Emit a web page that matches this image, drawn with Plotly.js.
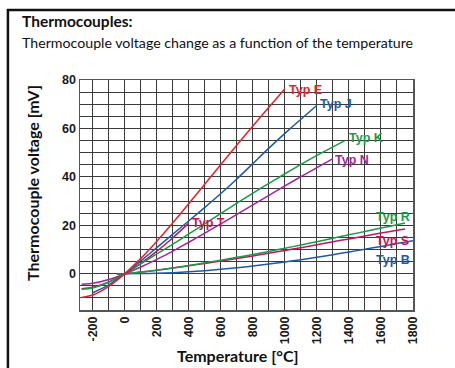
<!DOCTYPE html>
<html><head><meta charset="utf-8">
<script src="https://cdn.plot.ly/plotly-3.0.1.min.js"></script>
<style>html,body{margin:0;padding:0;background:#fff;}#chart{width:455px;height:368px;}</style>
</head><body><div id="chart"></div>
<script>
// Temperatures (°C) and thermocouple voltages (mV)
const tempE = [-270,-200,-100,0,100,200,300,400,500,600,700,800,900,1000];
const voltE = [-9.835,-8.825,-5.237,0,6.319,13.421,21.036,28.946,37.005,45.093,53.112,61.017,68.787,76.373];
const tempJ = [-200,-100,0,100,200,300,400,500,600,700,800,900,1000,1100,1200];
const voltJ = [-7.890,-4.633,0,5.269,10.779,16.327,21.848,27.393,33.102,39.132,45.494,51.877,57.953,63.792,69.553];
const tempK = [-270,-200,-100,0,100,200,300,400,500,600,700,800,900,1000,1100,1200,1300,1372];
const voltK = [-6.458,-5.891,-3.554,0,4.096,8.138,12.209,16.397,20.644,24.905,29.129,33.275,37.326,41.276,45.119,48.838,52.410,54.886];
const tempN = [-270,-200,-100,0,100,200,300,400,500,600,700,800,900,1000,1100,1200,1300];
const voltN = [-4.345,-3.990,-2.407,0,2.774,5.913,9.341,12.974,16.748,20.613,24.527,28.455,32.371,36.256,40.087,43.846,47.513];
const tempT = [-270,-200,-100,0,100,200,300,400];
const voltT = [-6.258,-5.603,-3.379,0,4.279,9.288,14.862,20.872];
const tempR = [-50,0,100,200,300,400,500,600,700,800,900,1000,1100,1200,1300,1400,1500,1600,1700,1750];
const voltR = [-0.226,0,0.647,1.469,2.401,3.408,4.471,5.583,6.743,7.950,9.205,10.506,11.850,13.228,14.629,16.040,17.451,18.849,20.222,20.9];
const tempS = [-50,0,100,200,300,400,500,600,700,800,900,1000,1100,1200,1300,1400,1500,1600,1700,1750];
const voltS = [-0.236,0,0.646,1.441,2.323,3.259,4.233,5.239,6.275,7.345,8.449,9.587,10.757,11.951,13.159,14.373,15.582,16.777,17.947,18.5];
const tempB = [0,100,200,300,400,500,600,700,800,900,1000,1100,1200,1300,1400,1500,1600,1700,1800];
const voltB = [0,0.033,0.178,0.431,0.787,1.242,1.792,2.431,3.154,3.957,4.834,5.780,6.786,7.848,8.956,10.099,11.263,12.433,13.591];

const seriesNames = ["Typ E","Typ J","Typ K","Typ N","Typ T","Typ R","Typ S","Typ B"];
const labelX = [1012,1208,1387,1300,408,1558,1558,1558];
const labelY = [75.8,70.0,56.0,46.9,20.9,23.3,13.3,5.6];

const xTickVals = [-200,0,200,400,600,800,1000,1200,1400,1600,1800];
const xTickText = ["-200","0","200","400","600","800","1000","1200","1400","1600","1800"];
const yTickVals = [0,20,40,60,80];
const yTickText = ["0","20","40","60","80"];

const RED="#e8202a", BLUE="#1c5aa6", GREEN="#1a9a44", PURPLE="#a3239a", CRIMSON="#c4145c";
const colors = [RED,BLUE,GREEN,PURPLE,CRIMSON,GREEN,CRIMSON,BLUE];
const xs = [tempE,tempJ,tempK,tempN,tempT,tempR,tempS,tempB];
const ys = [voltE,voltJ,voltK,voltN,voltT,voltR,voltS,voltB];

const order = [7,6,5,4,3,2,1,0];
const traces = order.map(i => ({
  x: xs[i], y: ys[i], type:"scatter", mode:"lines", name: seriesNames[i],
  line:{color:colors[i], width:1.5, shape:"spline", smoothing:0.6},
  hoverinfo:"skip"
}));

const FONT = "Liberation Sans, Arial, sans-serif";
const TFONT = "Lato, sans-serif";
const annotations = seriesNames.map((n,i) => ({
  x: labelX[i], y: labelY[i], xref:"x", yref:"y", text:"<b>"+n+"</b>", showarrow:false,
  xanchor:"left", yanchor:"middle",
  font:{family:FONT, size:12.5, color:colors[i]}
}));
annotations.push(
  {xref:"paper", yref:"paper", x:(20-80)/332.7, y:(310-21)/230, xanchor:"left", yanchor:"middle",
   text:"<b>Thermocouples:</b>", showarrow:false, font:{family:TFONT, size:15.5, color:"#111"}},
  {xref:"paper", yref:"paper", x:(20-80)/332.7, y:(310-42)/230, xanchor:"left", yanchor:"middle",
   text:"Thermocouple voltage change as a function of the temperature", showarrow:false,
   font:{family:TFONT, size:14.2, color:"#111"}},
  {xref:"paper", yref:"paper", x:(32-80)/332.7, y:(310-183)/230, xanchor:"center", yanchor:"middle",
   text:"<b>Thermocouple voltage [mV]</b>", textangle:-90, showarrow:false,
   font:{family:TFONT, size:16, color:"#111"}},
  {xref:"paper", yref:"paper", x:(238-80)/332.7, y:(310-355)/230, xanchor:"center", yanchor:"middle",
   text:"<b>Temperature [°C]</b>", showarrow:false,
   font:{family:TFONT, size:16, color:"#111"}}
);

const GRID="#3a3a3a";
const layout = {
  width:455, height:368,
  margin:{l:80, r:42.3, t:80, b:58},
  paper_bgcolor:"#fff", plot_bgcolor:"#fff",
  showlegend:false,
  xaxis:{range:[-280,1800], tickmode:"array", tickvals:xTickVals, ticktext:xTickText,
    tickangle:-90, showgrid:true, gridcolor:GRID, gridwidth:1, zeroline:false,
    minor:{dtick:100, showgrid:true, gridcolor:GRID, gridwidth:1},
    ticks:"", showline:true, linecolor:"#555", linewidth:1.5, mirror:true,
    tickfont:{family:FONT, size:12.5, color:"#1a1a1a", weight:"bold"}},
  yaxis:{range:[-15,80], tickmode:"array", tickvals:yTickVals, ticktext:yTickText,
    showgrid:true, gridcolor:GRID, gridwidth:1, zeroline:false,
    minor:{dtick:5, showgrid:true, gridcolor:GRID, gridwidth:1},
    ticks:"", showline:true, linecolor:"#555", linewidth:1.5, mirror:true,
    tickfont:{family:FONT, size:12.5, color:"#1a1a1a", weight:"bold"}},
  annotations: annotations,
  shapes:[
    {type:"line", xref:"paper", yref:"paper", x0:(7-80)/332.7, x1:(455-80)/332.7, y0:(310-10)/230, y1:(310-10)/230, line:{color:"#111", width:2.5}},
    {type:"line", xref:"paper", yref:"paper", x0:(8-80)/332.7, x1:(8-80)/332.7, y0:(310-9)/230, y1:(310-370)/230, line:{color:"#111", width:2.5}}
  ]
};
Plotly.newPlot("chart", traces, layout, {displayModeBar:false, staticPlot:true});
</script></body></html>
